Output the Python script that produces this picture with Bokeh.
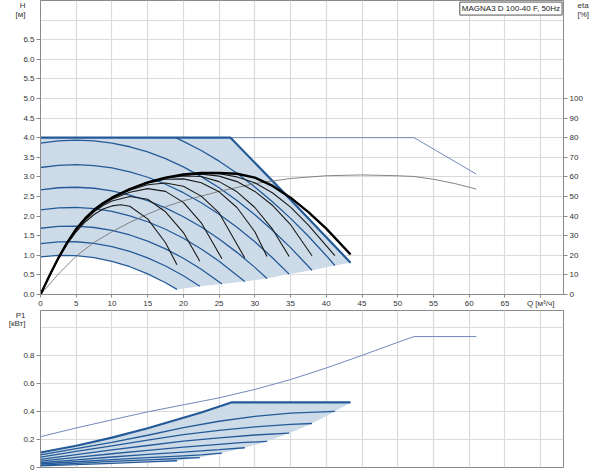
from bokeh.plotting import figure
from bokeh.models import Range1d, LinearAxis, FixedTicker, CustomJSTickFormatter, PrintfTickFormatter, Label
from bokeh.layouts import column
from bokeh.embed import file_html
from bokeh.resources import INLINE

# ---------------- data ----------------
q_ticks = [0, 5, 10, 15, 20, 25, 30, 35, 40, 45, 50, 55, 60, 65, 70]
h_ticks = [0, 0.5, 1.0, 1.5, 2.0, 2.5, 3.0, 3.5, 4.0, 4.5, 5.0, 5.5, 6.0, 6.5]
h_grid = h_ticks + [7.0]
eta_ticks = [0, 10, 20, 30, 40, 50, 60, 70, 80, 90, 100]
p_ticks = [0, 0.2, 0.4, 0.6, 0.8]
p_grid = p_ticks + [1.0]

# speed curves H [m] vs Q [m3/h]
h_q1 = [0, 2.5, 5, 7.5, 10, 12.5, 15, 17.5, 19.1]
h_v1 = [0.96, 0.998, 0.992, 0.941, 0.847, 0.708, 0.526, 0.299, 0.13]
h_q2 = [0, 2.5, 5, 7.5, 10, 12.5, 15, 17.5, 20, 22.3]
h_v2 = [1.30, 1.344, 1.346, 1.306, 1.224, 1.100, 0.934, 0.727, 0.477, 0.21]
h_q3 = [0, 2.5, 5, 7.5, 10, 12.5, 15, 17.5, 20, 22.5, 25.4]
h_v3 = [1.69, 1.737, 1.743, 1.709, 1.634, 1.518, 1.361, 1.163, 0.924, 0.645, 0.27]
h_q4 = [0, 2.5, 5, 7.5, 10, 12.5, 15, 17.5, 20, 22.5, 25, 28.6]
h_v4 = [2.16, 2.210, 2.220, 2.189, 2.118, 2.008, 1.856, 1.665, 1.434, 1.162, 0.850, 0.33]
h_q5 = [0, 2.5, 5, 7.5, 10, 12.5, 15, 17.5, 20, 22.5, 25, 27.5, 30, 31.7]
h_v5 = [2.67, 2.723, 2.736, 2.710, 2.644, 2.538, 2.393, 2.209, 1.984, 1.721, 1.417, 1.075, 0.692, 0.41]
h_q6 = [0, 2.5, 5, 7.5, 10, 12.5, 15, 17.5, 20, 22.5, 25, 27.5, 30, 32.5, 34.8]
h_v6 = [3.24, 3.296, 3.312, 3.290, 3.229, 3.129, 2.991, 2.813, 2.597, 2.342, 2.047, 1.715, 1.343, 0.932, 0.52]
h_q7 = [0, 2.5, 5, 7.5, 10, 12.5, 15, 17.5, 20, 22.5, 25, 27.5, 30, 32.5, 35, 38.0]
h_v7 = [3.86, 3.918, 3.939, 3.920, 3.864, 3.769, 3.637, 3.465, 3.256, 3.008, 2.723, 2.399, 2.036, 1.635, 1.196, 0.62]
h_q8 = [18.9, 20, 22.5, 25, 27.5, 30, 32.5, 35, 37.5, 40, 41.2]
h_v8 = [4.0, 3.908, 3.673, 3.401, 3.092, 2.745, 2.362, 1.942, 1.485, 0.990, 0.74]
hmax_q = [0, 26.6, 35, 43.4]
hmax_v = [4.0, 4.0, 2.42, 0.81]
hlow_q = [19.1, 22.3, 25.4, 28.6, 31.7, 34.8, 38.0, 41.2, 43.4]
hlow_v = [0.13, 0.21, 0.27, 0.33, 0.41, 0.52, 0.62, 0.74, 0.81]
hext_q = [26.6, 52.3, 61.0]
hext_v = [4.0, 4.0, 3.07]

# efficiency curves eta [%]
eff_q = [0, 2.5, 5, 7.5, 10, 12.5, 15, 17.5, 20, 25, 30, 35, 40, 45, 50, 52.3, 55, 58, 61]
eff_v = [0, 10.4, 19.6, 26.6, 32, 36.8, 41, 44.8, 47.8, 52.6, 56.6, 59.2, 60.6, 61, 60.6, 60.2, 58.8, 56.6, 53.8]
e_lo = [0, 1.25, 2.5, 3.75, 5, 6.25, 7.5, 8.75, 10]
e_q1 = e_lo + [11.25, 12.5, 15, 17.5, 19.1]
e_v1 = [0, 9.5, 18.2, 25.8, 32, 37, 40.8, 43.6, 45.2, 45.8, 45, 38.6, 26.4, 15.2]
e_q2 = e_lo + [12.5, 15, 17.5, 20, 22.3]
e_v2 = [0, 9.6, 18.4, 26.2, 32.8, 38, 42.2, 45.4, 47.7, 50, 48.6, 42.2, 31.6, 17]
e_q3 = e_lo + [12.5, 15, 17.5, 20, 22.5, 25.4]
e_v3 = [0, 9.6, 18.5, 26.4, 33, 38.3, 42.6, 46, 48.6, 52.2, 54, 52.6, 47, 36.6, 18.2]
e_q4 = e_lo + [12.5, 15, 17.5, 20, 22.5, 25, 28.6]
e_v4 = [0, 9.6, 18.6, 26.5, 33.2, 38.6, 43, 46.4, 49.1, 53.2, 56, 56.9, 55.2, 50.2, 41.6, 18.6]
e_q5 = e_lo + [12.5, 15, 17.5, 20, 22.5, 25, 27.5, 30, 31.7]
e_v5 = [0, 9.6, 18.6, 26.6, 33.3, 38.7, 43.1, 46.5, 49.3, 53.6, 56.8, 58.8, 59, 57, 52.4, 44.4, 32, 19.4]
e_q6 = e_lo + [12.5, 15, 17.5, 20, 22.5, 25, 27.5, 30, 32.5, 34.8]
e_v6 = [0, 9.6, 18.6, 26.6, 33.4, 38.8, 43.2, 46.6, 49.4, 53.7, 57, 59.3, 60.5, 60.2, 57.6, 52.4, 44.4, 33.2, 19.4]
e_q7 = e_lo + [12.5, 15, 17.5, 20, 22.5, 25, 27.5, 30, 32.5, 35, 38.0]
e_v7 = [0, 9.6, 18.6, 26.6, 33.4, 38.8, 43.2, 46.6, 49.4, 53.8, 57.1, 59.5, 61, 61.4, 60.4, 57.6, 52.6, 45.4, 35.6, 19.8]
e_q8 = e_lo + [12.5, 15, 17.5, 20, 22.5, 25, 27.5, 30, 32.5, 35, 37.5, 41.2]
e_v8 = [0, 9.6, 18.6, 26.6, 33.4, 38.8, 43.2, 46.6, 49.4, 53.8, 57.2, 59.6, 61.2, 61.8, 61.6, 60, 57, 51.8, 44.6, 35.4, 19.8]
emax_q = e_lo + [12.5, 15, 17.5, 20, 22.5, 25, 27.5, 30, 32.5, 35, 37.5, 40, 43.4]
emax_v = [0, 9.6, 18.6, 26.6, 33.4, 38.8, 43.2, 46.6, 49.4, 53.8, 57.2, 59.6, 61.2, 62, 62, 61.6, 59.6, 55.4, 49.4, 42, 33.6, 20.4]

# power curves P1 [kW]
p_q1 = [0, 5, 10, 15, 19.1]
p_v1 = [0.011, 0.02, 0.03, 0.04, 0.048]
p_q2 = [0, 5, 10, 15, 20, 22.3]
p_v2 = [0.017, 0.03, 0.043, 0.055, 0.066, 0.071]
p_q3 = [0, 5, 10, 15, 20, 22.5, 25.4]
p_v3 = [0.025, 0.041, 0.056, 0.07, 0.083, 0.09, 0.103]
p_q4 = [0, 5, 10, 15, 20, 25, 28.6]
p_v4 = [0.034, 0.055, 0.075, 0.093, 0.11, 0.127, 0.141]
p_q5 = [0, 5, 10, 15, 20, 25, 28, 31.7]
p_v5 = [0.045, 0.072, 0.098, 0.122, 0.145, 0.165, 0.177, 0.186]
p_q6 = [0, 5, 10, 15, 20, 25, 30, 34.8]
p_v6 = [0.058, 0.092, 0.125, 0.157, 0.188, 0.212, 0.232, 0.245]
p_q7 = [0, 5, 10, 15, 20, 25, 30, 35, 38.0]
p_v7 = [0.074, 0.115, 0.155, 0.195, 0.235, 0.265, 0.29, 0.307, 0.314]
p_q8 = [0, 5, 10, 15, 20, 25, 30, 35, 41.2]
p_v8 = [0.09, 0.135, 0.18, 0.23, 0.285, 0.33, 0.365, 0.388, 0.40]
pmax_q = [0, 5, 10, 15, 20, 22.5, 26.7, 43.4]
pmax_v = [0.107, 0.155, 0.213, 0.28, 0.355, 0.392, 0.464, 0.464]
plow_q = [19.1, 22.3, 25.4, 28.6, 31.7, 34.8, 38.0, 41.2, 43.4]
plow_v = [0.048, 0.071, 0.103, 0.141, 0.186, 0.245, 0.314, 0.40, 0.464]
pext_q = [0, 5, 10, 15, 20, 25, 30, 35, 40, 45, 50, 52.3, 61.0]
pext_v = [0.22, 0.282, 0.34, 0.397, 0.447, 0.497, 0.557, 0.627, 0.71, 0.80, 0.893, 0.934, 0.934]

title_text = "MAGNA3 D 100-40 F, 50Hz"
h_unit = ["H", "[м]"]
eta_unit = ["eta", "[%]"]
p_unit = ["P1", "[кВт]"]

# ---------------- styling ----------------
FONT = "Liberation Sans"
FS = "8px"
BLUE = "#245a98"
THIN_BLUE = "#7189bb"
FILL = "#cddbe8"
GRID = "#dadada"
AXIS = "#8a8a8a"
X_END = 73.2
H_TOP = 7.5
P_TOP = 1.12


def style_axis(ax):
    ax.axis_line_color = AXIS
    ax.major_tick_line_color = AXIS
    ax.minor_tick_line_color = None
    ax.major_tick_out = 4
    ax.major_tick_in = 0
    ax.major_label_standoff = 2
    ax.major_label_text_font = FONT
    ax.major_label_text_font_size = FS
    ax.major_label_text_color = "#333333"


def unit_axis(ticks, names, standoff, y_range_name="default"):
    # axis without line/ticks used only to print the unit caption
    ax = LinearAxis(y_range_name=y_range_name, ticker=FixedTicker(ticks=ticks),
                    formatter=CustomJSTickFormatter(
                        args=dict(t=ticks, n=names),
                        code="return tick == t[0] ? n[0] : n[1];"))
    style_axis(ax)
    ax.axis_line_color = None
    ax.major_tick_line_color = None
    ax.major_tick_out = 0
    ax.major_label_standoff = standoff
    return ax


# ---------------- top figure (H, eta) ----------------
top = figure(width=598, height=310, x_range=Range1d(0, X_END), y_range=Range1d(0, H_TOP),
             output_backend="svg", toolbar_location=None,
             min_border_left=40, min_border_right=35, min_border_top=0, min_border_bottom=15)
top.outline_line_color = AXIS
top.extra_y_ranges = {"eta": Range1d(0, H_TOP * 20)}

top.xaxis.ticker = FixedTicker(ticks=q_ticks)
top.xaxis.formatter = CustomJSTickFormatter(code="return tick >= 70 ? 'Q [м³/ч]' : tick.toFixed(0);")
top.yaxis.ticker = FixedTicker(ticks=h_ticks)
top.yaxis.formatter = PrintfTickFormatter(format="%.1f")
style_axis(top.xaxis[0])
style_axis(top.yaxis[0])
top.xaxis.major_tick_out = 3
top.xaxis.major_label_standoff = 1

eta_axis = LinearAxis(y_range_name="eta", ticker=FixedTicker(ticks=eta_ticks))
style_axis(eta_axis)
top.add_layout(eta_axis, "right")

top.add_layout(unit_axis([7.4, 7.15], h_unit, -5), "left")
top.add_layout(unit_axis([148, 143], eta_unit, -8, "eta"), "right")

top.xgrid.ticker = FixedTicker(ticks=q_ticks)
top.ygrid.ticker = FixedTicker(ticks=h_grid)
top.xgrid.grid_line_color = GRID
top.ygrid.grid_line_color = GRID
top.xgrid.grid_line_width = 1.2
top.ygrid.grid_line_width = 1.2

# shaded operating area
area_x = hmax_q + hlow_q[::-1] + h_q1[::-1]
area_y = hmax_v + hlow_v[::-1] + h_v1[::-1]
top.patch(area_x, area_y, fill_color=FILL, line_color=None)

speed_q = [h_q1, h_q2, h_q3, h_q4, h_q5, h_q6, h_q7, h_q8]
speed_h = [h_v1, h_v2, h_v3, h_v4, h_v5, h_v6, h_v7, h_v8]
for qq, hh in zip(speed_q, speed_h):
    top.line(qq, hh, line_color=BLUE, line_width=1.3)
top.line(hext_q, hext_v, line_color=THIN_BLUE, line_width=1)
top.line(hmax_q, hmax_v, line_color=BLUE, line_width=2.2)

top.line(eff_q, eff_v, line_color="#777777", line_width=0.9, y_range_name="eta")
eta_q = [e_q1, e_q2, e_q3, e_q4, e_q5, e_q6, e_q7, e_q8]
eta_v = [e_v1, e_v2, e_v3, e_v4, e_v5, e_v6, e_v7, e_v8]
for qq, ee in zip(eta_q, eta_v):
    top.line(qq, ee, line_color="#1a1a1a", line_width=1.1, y_range_name="eta")
top.line(emax_q, emax_v, line_color="#000000", line_width=2.4, y_range_name="eta")

tkw = dict(x=X_END - 0.2, y=H_TOP - 0.04, text=title_text, text_font=FONT, text_font_size=FS,
           text_color="#222222", text_align="right", text_baseline="top",
           background_fill_color="white", border_line_color="#555555")
if "padding" in Label.properties():
    tkw["padding"] = 2
top.add_layout(Label(**tkw))

# ---------------- bottom figure (P1) ----------------
bot = figure(width=598, height=161, x_range=top.x_range, y_range=Range1d(0, P_TOP),
             output_backend="svg", toolbar_location=None,
             min_border_left=40, min_border_right=35, min_border_top=0, min_border_bottom=4)
bot.outline_line_color = AXIS
bot.xaxis.visible = False
bot.yaxis.ticker = FixedTicker(ticks=p_ticks)
bot.yaxis.formatter = CustomJSTickFormatter(code="return tick == 0 ? '0' : tick.toFixed(1);")
style_axis(bot.yaxis[0])
bot.add_layout(unit_axis([1.093, 1.029], p_unit, -5), "left")
bot.xgrid.ticker = FixedTicker(ticks=q_ticks)
bot.ygrid.ticker = FixedTicker(ticks=p_grid)
bot.xgrid.grid_line_color = GRID
bot.ygrid.grid_line_color = GRID
bot.xgrid.grid_line_width = 1.2
bot.ygrid.grid_line_width = 1.2

parea_x = pmax_q + plow_q[::-1] + p_q1[::-1]
parea_y = pmax_v + plow_v[::-1] + p_v1[::-1]
bot.patch(parea_x, parea_y, fill_color=FILL, line_color=None)

pw_q = [p_q1, p_q2, p_q3, p_q4, p_q5, p_q6, p_q7, p_q8]
pw_v = [p_v1, p_v2, p_v3, p_v4, p_v5, p_v6, p_v7, p_v8]
for qq, pp in zip(pw_q, pw_v):
    bot.line(qq, pp, line_color=BLUE, line_width=1.3)
bot.line(pmax_q, pmax_v, line_color=BLUE, line_width=2.2)
bot.line(pext_q, pext_v, line_color=THIN_BLUE, line_width=1)

layout = column(top, bot, spacing=0)
open("out.html", "w").write(file_html(layout, INLINE))
